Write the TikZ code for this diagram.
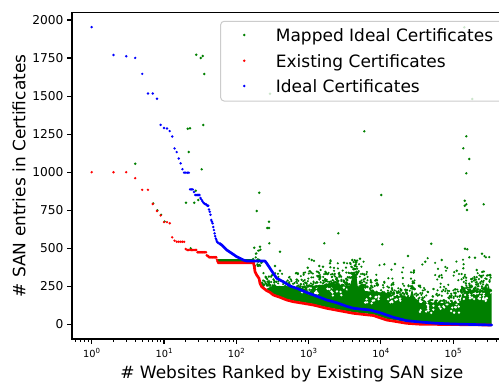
\documentclass[tikz,border=0pt]{standalone}
\usepackage{fontspec}
\setmainfont{DejaVu Sans}
\definecolor{mgreen}{RGB}{0,128,0}
\definecolor{mred}{RGB}{255,0,0}
\definecolor{mblue}{RGB}{0,0,255}
\definecolor{legendgray}{RGB}{204,204,204}
\definecolor{spine}{RGB}{0,0,0}
\newcommand\tenpow[1]{10\raisebox{0.45em}{\fontsize{7}{7}\selectfont #1}}
\tikzset{
  spineline/.style={draw=spine,line width=1.1pt,line cap=rect},
  majortick/.style={draw=spine,line width=1.1pt},
  minortick/.style={draw=spine,line width=0.8pt},
  ytlabel/.style={anchor=east,inner sep=0pt,font=\fontsize{12.2}{14}\selectfont},
  xtlabel/.style={anchor=base,inner sep=0pt,font=\fontsize{9.8}{12}\selectfont},
  axlabel/.style={inner sep=0pt,font=\fontsize{17}{20}\selectfont},
  legtext/.style={anchor=base west,inner sep=0pt,font=\fontsize{17}{20}\selectfont},
  gpt/.style={fill=mgreen},
  rpt/.style={fill=mred},
  bpt/.style={fill=mblue},
  curve/.style={line width=2.7pt,line join=round,line cap=round},
}
\def\dotr{1.35pt}
\begin{document}
\begin{tikzpicture}[x=1pt,y=-1pt,
  declare function={rx(\r)=91.7+31.4*ln(\r); vy(\v)=324.4-0.1522*\v;}]
\useasboundingbox (0,0) rectangle (499,381);
\fill[white] (0,0) rectangle (499,381);
\clip (0,0) rectangle (499,381);

% ---------------- mapped ideal certificates (green) ----------------
% solid core of the cloud
\fill[mgreen] (266,289) -- (272,286) -- (285,286) -- (300,288) -- (312,286) -- (320,285)
  -- (335,284) -- (350,286) -- (353,274) -- (356,274) -- (358,288) -- (362,283)
  -- (365,291) -- (387,293) -- (395,296) -- (410,297) -- (412,289) -- (414,297)
  -- (420,303) -- (460,303) -- (463,291) -- (491.5,290) -- (491.5,324)
  -- (420,323) -- (406.7,322) -- (386.7,318.8) -- (373.3,314.3) -- (353.3,312.2)
  -- (326.7,307.2) -- (313.3,304) -- (303.3,302.3) -- (293.3,300.6) -- (286.7,299)
  -- (280,296.3) -- (273.3,294) -- (270,291.3) -- cycle;
\pgfmathsetseed{11}
% small gaps inside the upper part of the core
\foreach \xa/\xb/\yt/\n in {300/350/286/25, 365/410/294/25, 420/460/303/25, 463/491/291/25}{
  \foreach \k in {1,...,\n}{
    \pgfmathsetmacro\gx{\xa+(\xb-\xa)*rnd}
    \pgfmathsetmacro\gy{\yt+1+9*rnd}
    \fill[white] (\gx,\gy) circle[radius=1.3pt];
  }
}
% ragged upper edge of the cloud
\foreach \xa/\xb/\yt/\n/\sp in {
  253/262/262/22/18, 262/275/282/45/16, 275/300/284/60/15, 300/325/283/75/16,
  325/350/281/75/14, 350/357/274/35/18, 357/370/284/40/18, 370/395/290/65/16,
  395/410/293/40/14, 410/414/285/18/18, 414/460/299/110/14, 460/491/288/120/17,
  320/350/281/25/26, 430/491/292/40/30, 352/364/270/20/14,
  290/491/286/90/34}{
  \foreach \k in {1,...,\n}{
    \pgfmathsetmacro\gx{\xa+(\xb-\xa)*rnd}
    \pgfmathsetmacro\gy{\yt+4-\sp*rnd^2}
    \fill[gpt] (\gx,\gy) circle[radius=1.2pt];
  }
}
% shelf of mapped values just above the existing shelf
\draw[mgreen,curve] (218,260.8) -- (253,260.8);
% isolated mapped points
\foreach \px/\py in {
  196.3/54.7, 200.7/58, 202.7/56, 204.3/74, 187.7/128.7, 190/128.3, 203.3/125,
  188.7/152, 201.7/169.3, 186/202.7, 194.3/202.7, 195.7/190.7, 198.3/200,
  259.3/192.7, 256.7/211, 269/221.7, 267.3/228, 269/228, 324.3/243.3, 269.3/243.3,
  254.3/247.7, 260/246.7, 280/251.7, 275/266, 280/270.7, 311.7/260, 319.3/266,
  323/266.7, 307.7/267.7, 364.3/131.3, 466.3/136.3, 463.3/148.3, 469.3/159,
  466.3/173.3, 381.3/195, 464.7/200.7, 466.3/204.3, 464.7/205.7, 467/210,
  483.7/204.3, 382.3/244.3, 431.3/243.7, 465/248.7, 467.3/249.3, 338.3/233.3,
  408/256, 425.3/261.7, 441.7/260, 456.7/270.7, 475/257.7, 482/253.7,
  469.3/257.3, 463.3/268.3, 476.7/270, 384.3/264.3, 395/264, 360/258.7,
  352.3/260, 330/263.3, 344/262.7, 190.7/248.3, 464.3/27.3, 270/93.7, 472.3/99}{
  \fill[gpt] (\px,\py) circle[radius=\dotr];
}
\foreach \r/\v in {4/1055, 7.1/795, 8.1/749, 9.1/720, 10.2/676}{
  \fill[gpt] ({rx(\r)},{vy(\v)}) circle[radius=\dotr];
}

% ---------------- existing certificates (red) ----------------
\foreach \r/\v in {1/1000, 2/1000, 3/1000, 4/961, 5/884, 6/884, 7/791, 8/745,
  9/716, 10/672, 11/672, 12/665, 13/572, 14/550, 15/543, 16/543, 17/543, 18/543,
  19/543, 20/495, 21/489, 22/489, 23/489, 24/489, 25/489, 26/489, 27/489, 28/489,
  29/474, 30/474, 31/474, 32/474, 33/474, 34/474, 35/474, 36/474, 37/474, 38/474,
  39/455, 40/449, 41/449, 42/441, 43/441, 44/441, 45/441, 46/441, 47/441, 48/441,
  49/441, 50/441, 51/441, 52/441, 53/441, 54/425, 55/415}{
  \fill[rpt] ({rx(\r)},{vy(\v)}) circle[radius=\dotr];
}
\draw[mred,curve] (218,262.7) -- (253.5,262.7) -- (254.3,266.7) -- (255,271.7)
  -- (256.7,275) -- (259,278.3) -- (260,283.3) -- (261.7,286.7) -- (266.7,290.7)
  -- (270,292.3) -- (273.3,295) -- (280,297.3) -- (286.7,300) -- (293.3,301.7)
  -- (303.3,303.3) -- (313.3,305) -- (326.7,308.3) -- (353.3,313.3) -- (373.3,315.5)
  -- (386.7,320) -- (406.7,323.3) -- (420,324.2) -- (491,325);

% ---------------- ideal certificates (blue) ----------------
\foreach \r/\v in {1/1953, 2/1770, 3/1762, 4/1751, 5/1646, 6/1517, 7/1517, 8/1482,
  9/1311, 10/1290, 11/1287, 12/1270, 13/1235, 14/1156, 15/1132, 16/1090, 17/1058,
  18/1020, 19/997, 20/997, 21/997, 22/997, 23/887, 24/887, 25/887, 26/870, 27/850,
  28/850, 29/850, 30/850, 31/850, 32/830, 33/820, 34/810, 35/800, 36/795, 37/790,
  38/790, 39/785, 40/780, 41/780, 42/755, 43/740, 44/720, 45/686, 46/675, 47/664,
  48/640, 49/620, 50/598, 51/580, 52/565, 53/555, 54/545, 55/540, 56/535}{
  \fill[bpt] ({rx(\r)},{vy(\v)}) circle[radius=\dotr];
}
\draw[mblue,curve] (219.3,243.3) -- (221.7,245) -- (226.7,250) -- (231.7,253.3)
  -- (236.7,256.7) -- (243.3,260) -- (246.7,261) -- (253.3,261) -- (265,261)
  -- (266.7,263.3) -- (270,268.3) -- (273.3,273.3) -- (276.7,278.3) -- (283.3,281.7)
  -- (290,286) -- (296.7,288.3) -- (306.7,292.5) -- (316.7,296.2) -- (326.7,300)
  -- (336.7,302.7) -- (346.7,306.3) -- (353.3,308.3) -- (370,310) -- (380,312.7)
  -- (393.3,317.3) -- (406.7,320.7) -- (420,322) -- (436.7,323.3) -- (453,324)
  -- (491.8,325);

% ---------------- axes ----------------
\draw[spineline] (72,12.7) -- (72,339) -- (512.6,339);
\draw[spineline] (72,12.7) -- (512.6,12.7);
% y ticks
\foreach \v in {0,250,...,2000}{
  \draw[majortick] (67.1,{vy(\v)}) -- (72,{vy(\v)});
  \node[ytlabel] (yt\v) at (63.6,{vy(\v)}) {\v};
}
% x major ticks
\foreach \k in {0,...,5}{
  \pgfmathsetmacro\tx{91.7+72.3*\k}
  \draw[majortick] (\tx,339) -- (\tx,343.9);
  \node[xtlabel] (xt\k) at (\tx,357.7) {\tenpow{\k}};
}
% x minor ticks
\foreach \k in {-1,...,5}{
  \foreach \m in {2,...,9}{
    \pgfmathsetmacro\tx{91.7+72.3*\k+31.4*ln(\m)}
    \ifdim\tx pt>72.5pt\relax
      \ifdim\tx pt<499pt\relax
        \draw[minortick] (\tx,339) -- (\tx,341.8);
      \fi
    \fi
  }
}
% axis labels
\node[axlabel,anchor=base] (xlabel) at (291.8,378.3) {\# Websites Ranked by Existing SAN size};
\node[axlabel,anchor=base,rotate=90] (ylabel) at (25.3,176) {\# SAN entries in Certificates};

% ---------------- legend ----------------
\draw[draw=legendgray,fill=white,fill opacity=0.8,rounded corners=3.4pt,line width=1pt]
  (220.7,21.3) rectangle (504,101);
\fill[gpt] (244.3,35) circle[radius=\dotr];
\fill[rpt] (244.3,60.7) circle[radius=\dotr];
\fill[bpt] (244.3,86) circle[radius=\dotr];
\node[legtext] (leg1) at (275.7,41.3) {Mapped Ideal Certificates};
\node[legtext] (leg2) at (275.7,67.0) {Existing Certificates};
\node[legtext] (leg3) at (275.7,92.4) {Ideal Certificates};
\end{tikzpicture}
\end{document}
